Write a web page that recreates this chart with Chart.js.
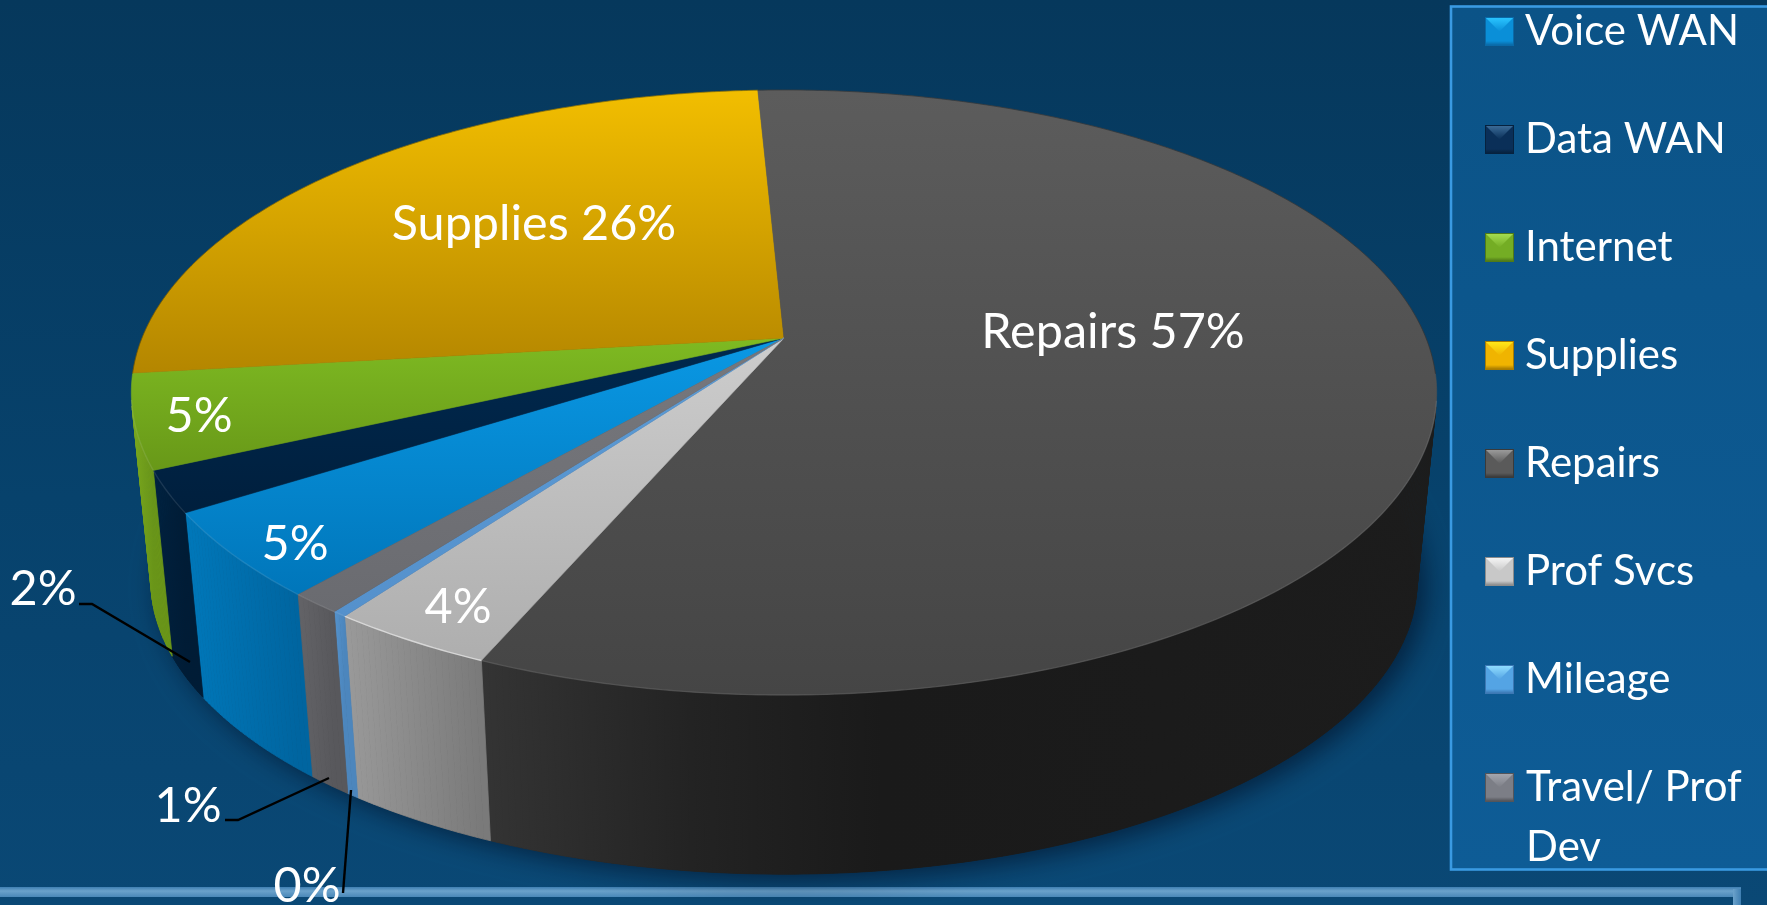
<!DOCTYPE html>
<html>
<head>
<meta charset="utf-8">
<title>Expenses</title>
<script src="https://cdn.jsdelivr.net/npm/chart.js@4/dist/chart.umd.js"></script>
<style>
  html, body { margin: 0; padding: 0; background: #08426e; overflow: hidden; }
  canvas { display: block; }
</style>
</head>
<body>
<canvas id="pie" width="1767" height="905"></canvas>
<script>
const categories = ["Voice WAN", "Data WAN", "Internet", "Supplies", "Repairs", "Prof Svcs", "Mileage", "Travel/ Prof Dev"];
const shares = [4.6, 2.2, 5.0, 26.1, 57.2, 3.5, 0.3, 1.1];
const shareLabels = ["5%", "2%", "5%", "Supplies 26%", "Repairs 57%", "4%", "0%", "1%"];

// top light, top dark, side light, side dark
const sliceColors = [
  ["#0a98e4", "#0076ba", "#0078ba", "#0065a0"],
  ["#00294f", "#001f3d", "#00213f", "#001c36"],
  ["#7eba22", "#689818", "#7aa81e", "#6a9618"],
  ["#f2be00", "#b48600", "#b48600", "#a07600"],
  ["#5c5c5c", "#454545", "#303030", "#1a1a1a"],
  ["#cdcdcd", "#aeaeae", "#9a9a9a", "#7a7a7a"],
  ["#5b9bd5", "#5591cc", "#5492cc", "#4c86bd"],
  ["#77787d", "#6a6b70", "#636367", "#58585c"]
];
const markerColors = [
  ["#29c4ff", "#0a8fd8", "#0a6aa8"],
  ["#3a6a96", "#0a2f58", "#06223f"],
  ["#a4dc50", "#74ad24", "#4f7a18"],
  ["#ffe81a", "#f0b400", "#a87c00"],
  ["#9a9a9a", "#5a5a5a", "#3a3a3a"],
  ["#f4f4f4", "#c8c8c8", "#8c8c8c"],
  ["#8fdcff", "#54a4e4", "#3c78b4"],
  ["#a4a6ae", "#7c7e86", "#54555a"]
];

// label anchors and leader lines, page pixels
const labelSpots = [[295, 544], [43, 589], [199, 416], [534, 224], [1113, 332], [458, 607], [307, 886], [188, 806]];
const leaders = {
  1: [[79, 604], [92, 604], [190, 662]],
  7: [[225, 820], [238, 820], [329, 778]],
  6: [[351, 790], [343, 893]]
};

// top of the disc as a perspective view of a unit circle
const cx = 784, apexY = 338, lean = 0.1802, sx = 642, sy = 292.7;
// the bottom disc is the top one shrunk and pushed down
const baseScale = 0.97, baseDrop = 200;

function rim(a) {
  const u = Math.cos(a), v = Math.sin(a), w = 1 - lean * v;
  return [cx + sx * u / w, apexY + sy * v / w];
}
function lower(p) {
  return [cx + baseScale * (p[0] - cx), baseScale * p[1] + baseDrop];
}
function rimPoints(start, end) {
  const n = Math.max(2, Math.ceil((end - start) / 0.01));
  const pts = [];
  for (let i = 0; i <= n; i++) pts.push(rim(start + (end - start) * i / n));
  return pts;
}
function trace(ctx, pts) {
  pts.forEach((p, i) => i ? ctx.lineTo(p[0], p[1]) : ctx.moveTo(p[0], p[1]));
}
function bounds(pts) {
  const xs = pts.map(p => p[0]), ys = pts.map(p => p[1]);
  return { l: Math.min(...xs), r: Math.max(...xs), t: Math.min(...ys), b: Math.max(...ys) };
}

function drawBackground(ctx, w, h) {
  const bg = ctx.createLinearGradient(0, 0, 0, h);
  bg.addColorStop(0, "#06385c");
  bg.addColorStop(0.55, "#07426c");
  bg.addColorStop(1, "#0a4875");
  ctx.fillStyle = bg;
  ctx.fillRect(0, 0, w, h);

  // frame of the box under the chart
  const band = ctx.createLinearGradient(0, 887, 0, 897);
  band.addColorStop(0, "#3f7fb2");
  band.addColorStop(0.4, "#6ba2cb");
  band.addColorStop(1, "#4a88b8");
  ctx.fillStyle = band;
  ctx.fillRect(0, 887, 1741, 10);
  const side = ctx.createLinearGradient(1733, 0, 1741, 0);
  side.addColorStop(0, "#6ba2cb");
  side.addColorStop(1, "#3f7fb2");
  ctx.fillStyle = side;
  ctx.fillRect(1733, 889, 8, 16);
}

function drawDisc(ctx, arcs) {
  const ring = rimPoints(0, Math.PI * 2);

  // soft shadow under the disc
  ctx.save();
  ctx.shadowColor = "rgba(0,10,30,0.6)";
  ctx.shadowBlur = 26;
  ctx.shadowOffsetX = 8;
  ctx.shadowOffsetY = 6;
  ctx.fillStyle = "#1a1a1a";
  ctx.beginPath();
  trace(ctx, ring.map(lower));
  ctx.closePath();
  ctx.fill();
  ctx.restore();

  // outer wall, only the strips that face the viewer
  arcs.forEach((arc, i) => {
    const top = rimPoints(arc.startAngle, arc.endAngle);
    const box = bounds(top);
    const g = ctx.createLinearGradient(box.l, 0, Math.max(box.r, box.l + 1), 0);
    const c = sliceColors[i];
    if (i === 4) {
      g.addColorStop(0, "#343434");
      g.addColorStop(0.22, "#232323");
      g.addColorStop(0.42, "#1a1a1a");
      g.addColorStop(1, "#1c1c1c");
    } else {
      g.addColorStop(0, c[2]);
      g.addColorStop(1, c[3]);
    }
    ctx.fillStyle = g;
    ctx.strokeStyle = g;
    ctx.lineWidth = 0.8;
    for (let k = 0; k < top.length - 1; k++) {
      const a = top[k], b = top[k + 1], d = lower(a);
      const facing = (b[0] - a[0]) * (d[1] - a[1]) - (b[1] - a[1]) * (d[0] - a[0]);
      if (facing > 0) continue;
      ctx.beginPath();
      trace(ctx, [a, b, lower(b), d]);
      ctx.closePath();
      ctx.fill();
      ctx.stroke();
    }
  });

  // top face
  arcs.forEach((arc, i) => {
    const edge = rimPoints(arc.startAngle, arc.endAngle);
    const face = [[cx, apexY]].concat(edge);
    const box = bounds(face);
    const g = ctx.createLinearGradient(0, box.t, 0, box.b);
    g.addColorStop(0, sliceColors[i][0]);
    g.addColorStop(1, sliceColors[i][1]);
    ctx.fillStyle = g;
    ctx.strokeStyle = g;
    ctx.lineWidth = 0.6;
    ctx.beginPath();
    trace(ctx, face);
    ctx.closePath();
    ctx.fill();
    ctx.stroke();

    ctx.strokeStyle = i === 5 ? "rgba(255,255,255,0.55)" : "rgba(255,255,255,0.1)";
    ctx.lineWidth = 1.4;
    ctx.beginPath();
    trace(ctx, edge.filter(p => p[1] > apexY + 60));
    ctx.stroke();
  });

  // dark outline along the back edge
  ctx.strokeStyle = "rgba(0,0,0,0.28)";
  ctx.lineWidth = 1;
  ctx.beginPath();
  trace(ctx, rimPoints(Math.PI - 0.12, Math.PI * 2 + 0.12));
  ctx.stroke();
}

function drawLabels(ctx) {
  ctx.textAlign = "center";
  ctx.textBaseline = "middle";
  ctx.fillStyle = "#ffffff";
  ctx.font = "48.5px Lato, 'Open Sans', sans-serif";
  shareLabels.forEach((text, i) => ctx.fillText(text, labelSpots[i][0], labelSpots[i][1]));

  ctx.strokeStyle = "#000000";
  ctx.lineWidth = 2.4;
  Object.values(leaders).forEach(line => {
    ctx.beginPath();
    trace(ctx, line);
    ctx.stroke();
  });
}

function drawMarker(ctx, x, y, size, c) {
  const bevel = size * 0.5;
  ctx.fillStyle = c[2];
  ctx.fillRect(x - 1, y - 1, size + 2, size + 2);
  ctx.fillStyle = c[1];
  ctx.fillRect(x, y, size, size);
  const g = ctx.createLinearGradient(0, y, 0, y + bevel);
  g.addColorStop(0, c[0]);
  g.addColorStop(1, c[1]);
  ctx.fillStyle = g;
  ctx.beginPath();
  ctx.moveTo(x, y);
  ctx.lineTo(x + size, y);
  ctx.lineTo(x + size / 2, y + bevel);
  ctx.closePath();
  ctx.fill();
  const s = ctx.createLinearGradient(0, y + size - 4, 0, y + size);
  s.addColorStop(0, c[1]);
  s.addColorStop(1, c[2]);
  ctx.fillStyle = s;
  ctx.fillRect(x, y + size - 4, size, 4);
}

function drawLegend(ctx, w) {
  const box = ctx.createLinearGradient(0, 6, 0, 870);
  box.addColorStop(0, "#0b5387");
  box.addColorStop(1, "#0e5c96");
  ctx.fillStyle = box;
  ctx.fillRect(1450, 6, w - 1450 + 4, 864);
  ctx.strokeStyle = "#3a9ae2";
  ctx.lineWidth = 2.6;
  ctx.strokeRect(1451, 6.5, w - 1451 + 6, 863);

  ctx.textAlign = "left";
  ctx.textBaseline = "middle";
  ctx.font = "42px Lato, 'Open Sans', sans-serif";
  categories.forEach((name, i) => {
    const y = 31 + i * 108;
    drawMarker(ctx, 1486, y - 13, 27, markerColors[i]);
    ctx.fillStyle = "#ffffff";
    const cut = name.indexOf(" Prof Dev");
    if (cut > 0) {
      ctx.fillText("Travel/ Prof", 1526, y);
      ctx.fillText("Dev", 1526, y + 60);
    } else {
      ctx.fillText(name, 1525, y);
    }
  });
}

const disc3d = {
  id: "disc3d",
  beforeDraw(chart) {
    drawBackground(chart.ctx, chart.width, chart.height);
  },
  // the library works out the slice angles; they are only redrawn in perspective
  beforeDatasetsDraw(chart) {
    const ctx = chart.ctx;
    drawDisc(ctx, chart.getDatasetMeta(0).data);
    drawLabels(ctx);
    drawLegend(ctx, chart.width);
    return false;
  }
};

new Chart(document.getElementById("pie"), {
  type: "pie",
  data: {
    labels: categories,
    datasets: [{
      data: shares,
      backgroundColor: sliceColors.map(c => c[0]),
      borderWidth: 0
    }]
  },
  options: {
    responsive: false,
    animation: false,
    rotation: 220.8,
    plugins: { legend: { display: false }, tooltip: { enabled: false } }
  },
  plugins: [disc3d]
});
</script>
</body>
</html>
